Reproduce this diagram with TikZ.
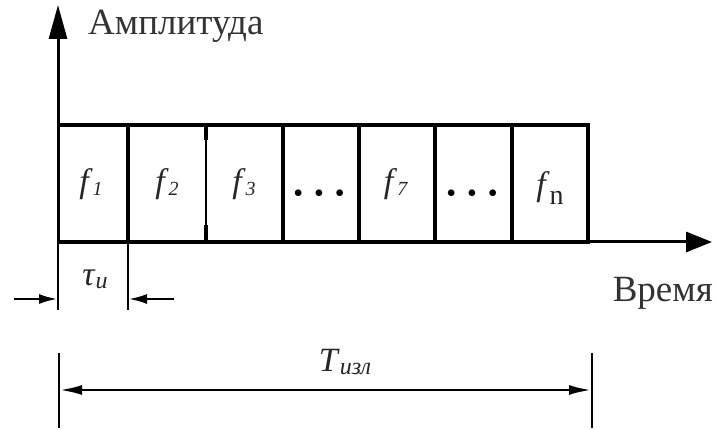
\documentclass[tikz,border=0pt]{standalone}
\usepackage{fontspec}
\setmainfont{Liberation Serif}
\usetikzlibrary{arrows.meta}
\newcommand{\flab}[1]{\textit{f}\raisebox{-3pt}{\fontsize{20}{20}\selectfont\textit{#1}}}
\newcommand{\dotsrow}{\fontsize{28}{28}\selectfont\textbullet\hspace{11pt}\textbullet\hspace{11pt}\textbullet}
\begin{document}
\begin{tikzpicture}[x=1pt,y=-1pt,
  axisline/.style={line width=3pt},
  boxline/.style={line width=4.5pt},
  dimline/.style={line width=2pt},
  lbl/.style={inner sep=0pt,font=\fontsize{34}{38}\selectfont,text=black!85},
  bigtxt/.style={inner sep=0pt,font=\fontsize{37}{40}\selectfont,text=black!80}]
\useasboundingbox (0,0) rectangle (716,430);
% axes
\coordinate (O) at (58,242);
\coordinate (Ytop) at (58,5);
\coordinate (Xend) at (712,242);
\draw[axisline,-{Triangle[length=34pt,width=18pt]}] (O) -- (Ytop);
\draw[axisline,-{Triangle[length=26pt,width=20pt]}] (O) -- (Xend);
% box frame
\coordinate (TL) at (58,125);
\coordinate (TR) at (590,125);
\coordinate (BR) at (590,242);
\draw[boxline] (TL) -- (TR);
\draw[boxline] (O) -- (BR);
\foreach \x in {128,283,359,435,512,588}
  \draw[line width=4.5pt] (\x,125) -- (\x,242);
\draw[line width=2pt] (206,125) -- (206,242);
\draw[line width=4.5pt] (206,125) -- (206,140);
\draw[line width=4.5pt] (206,225) -- (206,242);
% labels in boxes
\node[lbl] (f1) at (91,184) {\flab{1}};
\node[lbl] (f2) at (167,184) {\flab{2}};
\node[lbl] (f3) at (244,184) {\flab{3}};
\node[inner sep=0pt] (d1) at (319,196) {\dotsrow};
\node[lbl] (f7) at (396,184) {\flab{7}};
\node[inner sep=0pt] (d2) at (472,196) {\dotsrow};
\node[lbl] (fn) at (550,188) {\textit{f}\raisebox{-9pt}{\fontsize{28}{28}\selectfont n}};
% axis labels
\node[bigtxt,anchor=base west] (amp) at (88,35) {Амплитуда};
\node[bigtxt,anchor=base east] (time) at (713,302) {Время};
% tau dimension
\coordinate (ta) at (58,310);
\coordinate (tb) at (128,242);
\coordinate (tc) at (128,310);
\draw[dimline] (O) -- (ta);
\draw[dimline] (tb) -- (tc);
\coordinate (tl) at (14,299);
\coordinate (tlp) at (57,299);
\coordinate (tr) at (174,299);
\coordinate (trp) at (129,299);
\draw[dimline,-{Latex[length=18pt,width=10pt]}] (tl) -- (tlp);
\draw[dimline,-{Latex[length=18pt,width=10pt]}] (tr) -- (trp);
\node[lbl] (tau) at (95,279) {\textit{τ}\raisebox{-3pt}{\fontsize{24}{24}\selectfont\textit{и}}};
% T dimension
\coordinate (Ta) at (59,353);
\coordinate (Tb) at (59,428);
\coordinate (Tc) at (592,353);
\coordinate (Td) at (592,428);
\coordinate (Tl) at (60,390);
\coordinate (Tr) at (591,390);
\draw[dimline] (Ta) -- (Tb);
\draw[dimline] (Tc) -- (Td);
\draw[line width=2.5pt,{Latex[length=22pt,width=10pt]}-{Latex[length=22pt,width=10pt]}] (Tl) -- (Tr);
\node[lbl,anchor=base] (T) at (345,372) {\textit{T}\raisebox{-3pt}{\fontsize{24}{24}\selectfont\textit{изл}}};
\end{tikzpicture}
\end{document}
